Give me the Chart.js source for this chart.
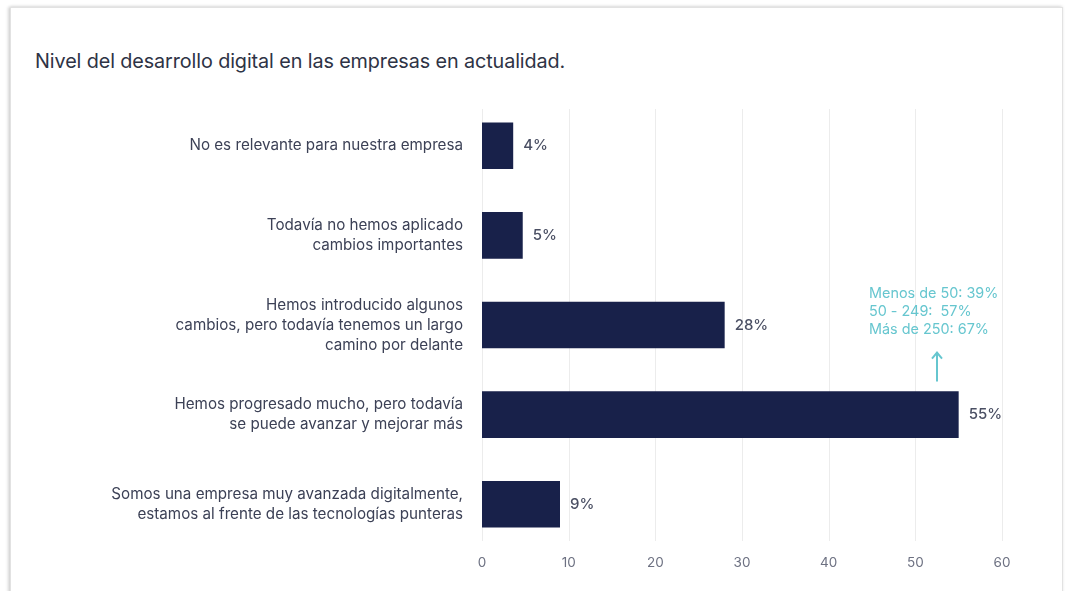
<!DOCTYPE html>
<html>
<head>
<meta charset="utf-8">
<script src="https://cdn.jsdelivr.net/npm/chart.js@4.4.0/dist/chart.umd.min.js"></script>
<style>
    html, body { margin: 0; padding: 0; background: #ffffff; }
    body { width: 1065px; height: 591px; position: relative; overflow: hidden; font-family: "Inter", "Lato", sans-serif; }
    #card {
        position: absolute; left: 10px; top: 7px; width: 1051px; height: 590px;
        border: 1px solid #e2e2e2; box-shadow: -2px 0 3px rgba(0,0,0,0.15), 0 -1px 3px rgba(0,0,0,0.08);
        background: #fff;
    }
    #title {
        position: absolute; left: 35px; top: 49px; font-size: 19.8px; color: #2e3345; letter-spacing: -0.1px;
    }
    #wrap { position: absolute; left: 0; top: 0; width: 1065px; height: 591px; }
</style>
</head>
<body>
<div id="card"></div>
<div id="title">Nivel del desarrollo digital en las empresas en actualidad.</div>
<div id="wrap"><canvas id="chart" width="1065" height="591"></canvas></div>
<script>
    //------------------------------------------Datos------------------------------------------------------------------

    const categories = [
        ["No es relevante para nuestra empresa"],
        ["Todavía no hemos aplicado", "cambios importantes"],
        ["Hemos introducido algunos", "cambios, pero todavía tenemos un largo", "camino por delante"],
        ["Hemos progresado mucho, pero todavía", "se puede avanzar y mejorar más"],
        ["Somos una empresa muy avanzada digitalmente,", "estamos al frente de las tecnologías punteras"]
    ];
    const values = [3.6, 4.7, 28, 55, 9];
    const valueLabels = ["4%", "5%", "28%", "55%", "9%"];
    const xTicks = [0, 10, 20, 30, 40, 50, 60];
    const noteLines = ["Menos de 50: 39%", "50 - 249:  57%", "Más de 250: 67%"];
    const noteAt = 52.5;   // valor del eje x donde cae la flecha
    const noteBar = 3;     // barra a la que apunta

    const fontName = "Inter, Lato, sans-serif";
    const barColor = "#18214a";
    const teal = "#66c6cf";

    //------------------------------------------Plugins------------------------------------------------------------------

    // rejilla vertical mas corta que el area del grafico
    const gridPlugin = {
        id: "shortGrid",
        beforeDatasetsDraw(chart) {
            let ctx = chart.ctx;
            let x = chart.scales.x;
            let area = chart.chartArea;
            ctx.save();
            ctx.strokeStyle = "#ececec";
            ctx.lineWidth = 1;
            for (const t of xTicks) {
                let px = Math.round(x.getPixelForValue(t)) + 0.5;
                ctx.beginPath();
                ctx.moveTo(px, area.top + 8);
                ctx.lineTo(px, area.bottom - 8);
                ctx.stroke();
            }
            ctx.restore();
        }
    };

    // etiquetas de valor y nota de tamaños
    const labelPlugin = {
        id: "valueLabels",
        afterDatasetsDraw(chart) {
            let ctx = chart.ctx;
            let meta = chart.getDatasetMeta(0);
            ctx.save();
            ctx.font = "500 15px " + fontName;
            ctx.fillStyle = "#4a4f63";
            ctx.textBaseline = "middle";
            ctx.textAlign = "left";
            meta.data.forEach(function (bar, i) {
                ctx.fillText(valueLabels[i], bar.x + 10, bar.y);
            });

            let x = chart.scales.x;
            let target = meta.data[noteBar];
            let ax = x.getPixelForValue(noteAt);
            let top = target.y - 23;
            ctx.strokeStyle = teal;
            ctx.lineWidth = 2;
            ctx.beginPath();
            ctx.moveTo(ax, top - 10);
            ctx.lineTo(ax, top - 39);
            ctx.moveTo(ax - 5, top - 33);
            ctx.lineTo(ax, top - 39);
            ctx.lineTo(ax + 5, top - 33);
            ctx.stroke();

            ctx.font = "14.4px " + fontName;
            ctx.fillStyle = teal;
            for (let i = 0; i < noteLines.length; i++) {
                ctx.fillText(noteLines[i], ax - 68, top - 98 + i * 18);
            }
            ctx.restore();
        }
    };

    //------------------------------------------Grafico------------------------------------------------------------------

    Chart.defaults.font.family = fontName;

    const myChart = new Chart(document.getElementById("chart"), {
        type: "bar",
        data: {
            labels: categories,
            datasets: [{
                data: values,
                backgroundColor: barColor,
                borderWidth: 0,
                barPercentage: 0.52,
                categoryPercentage: 1
            }]
        },
        options: {
            indexAxis: "y",
            responsive: false,
            animation: false,
            layout: { padding: { top: 101, right: 63, left: 0, bottom: 0 } },
            plugins: {
                legend: { display: false },
                tooltip: { enabled: false },
                title: { display: false }
            },
            scales: {
                x: {
                    min: 0,
                    max: 60,
                    afterBuildTicks: function (scale) {
                        scale.ticks = xTicks.map(function (v) { return { value: v }; });
                    },
                    afterFit: function (scale) { scale.height = 42; },
                    grid: { display: false, drawTicks: false },
                    border: { display: false },
                    ticks: {
                        padding: 6,
                        color: "#6d7182",
                        font: { size: 13.5 }
                    }
                },
                y: {
                    afterFit: function (scale) { scale.width = 482; },
                    grid: { display: false, drawTicks: false },
                    border: { display: false },
                    ticks: {
                        padding: 19,
                        color: "#3c4156",
                        font: { size: 15.2, lineHeight: 1.32 }
                    }
                }
            }
        },
        plugins: [gridPlugin, labelPlugin]
    });
</script>
</body>
</html>
